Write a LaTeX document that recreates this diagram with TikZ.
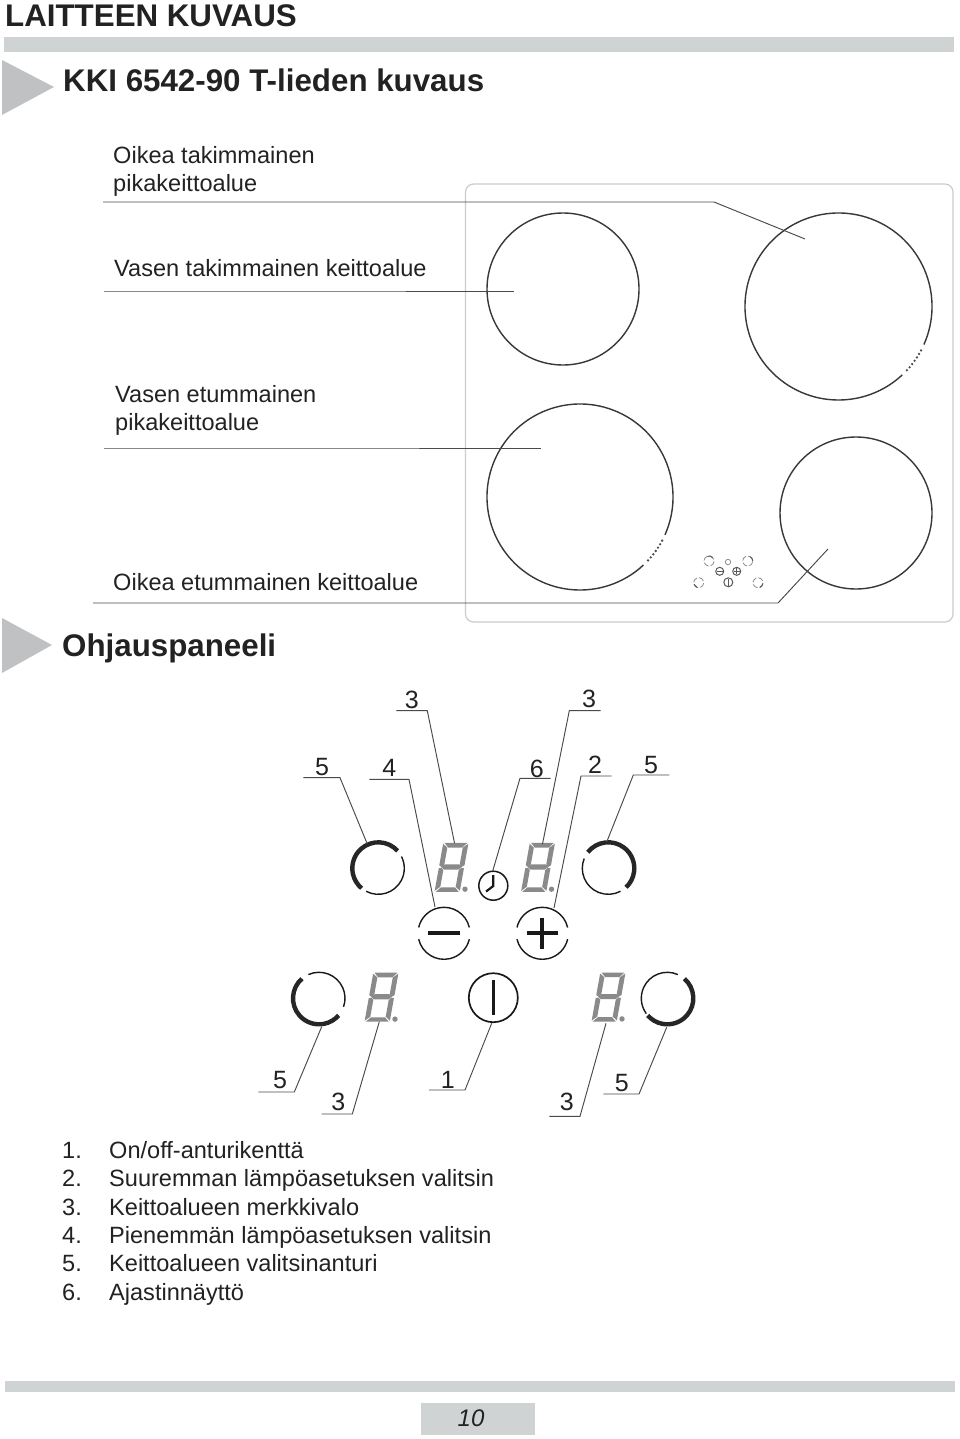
\documentclass[tikz,border=0pt]{standalone}
\usepackage{fontspec}
\setmainfont{Liberation Sans}
\definecolor{barc}{HTML}{D0D3D4}
\definecolor{tric}{HTML}{BFC1C2}
\definecolor{txtc}{HTML}{222222}
\definecolor{linec}{HTML}{4A4A4A}
\definecolor{segc}{HTML}{8A8A8A}
\tikzset{
 txt/.style={anchor=base west,inner sep=0pt,font=\fontsize{23.55}{28}\selectfont,text=txtc},
 head/.style={anchor=base west,inner sep=0pt,font=\fontsize{31.3}{36}\selectfont\bfseries,text=txtc},
 num/.style={anchor=center,inner sep=0pt,font=\fontsize{25}{28}\selectfont,text=txtc},
 leader/.style={draw=linec,line width=0.95pt},
 thinarc/.style={draw=black!90,line width=1.4pt},
 thickarc/.style={draw=black!85,line width=4.4pt},
 hob/.style={draw=black!78,line width=1.4pt},
 mini/.style={draw=black!45,line width=0.8pt},
 minid/.style={draw=black!65,line width=1pt},
 seg/.style={fill=segc,draw=none},
}
% seven segment display: origin = lower left, upper edge at 49, sheared
\newcommand{\sevenseg}[2]{%
 \begin{scope}[shift={(#1,#2)},y=1pt,xslant=0.18]
  \fill[seg] (1.2,49)--(24.2,49)--(19.7,44.3)--(5.7,44.3)--cycle;
  \fill[seg] (25.2,48)--(25.2,26.5)--(22.5,24.8)--(20.3,27.5)--(20.3,44.2)--cycle;
  \fill[seg] (0,48)--(0,26.5)--(2.7,24.8)--(4.9,27.5)--(4.9,44.2)--cycle;
  \fill[seg] (2,25)--(5.4,27.5)--(19.8,27.5)--(23.2,25)--(19.8,22.3)--(5.4,22.3)--cycle;
  \fill[seg] (25.2,23.5)--(25.2,1)--(20.3,5)--(20.3,21.7)--(22.5,24)--cycle;
  \fill[seg] (0,23.5)--(2.7,24)--(4.9,21.7)--(4.9,5)--(0,1)--cycle;
  \fill[seg] (1.2,0)--(24.2,0)--(19.7,4.4)--(5.7,4.4)--cycle;
 \end{scope}
 \fill[seg] (#1+30.5,#2-2.6) circle[radius=2.7pt];
}
% sensor: x y thickstart thickend thinstart thinend
\newcommand{\sensor}[6]{%
 \begin{scope}[shift={(#1,#2)},y=1pt]
  \draw[thickarc] (#3:26) arc[start angle=#3,end angle=#4,radius=26];
  \draw[thinarc] (#5:26) arc[start angle=#5,end angle=#6,radius=26];
 \end{scope}}
\newcommand{\minisensor}[4]{%
 \begin{scope}[shift={(#1,#2)},y=1pt]
  \foreach \a in {20,110,200,290}{\draw[mini] (\a:5) arc[start angle=\a,end angle=\a+65,radius=5];}
  \draw[minid] (#3:5) arc[start angle=#3,end angle=#4,radius=5];
 \end{scope}}
\newcommand{\leadline}[7]{%
 \coordinate (#1a) at (#2,#3);\coordinate (#1b) at (#4,#5);\coordinate (#1c) at (#6,#7);
 \draw[leader] (#1a)--(#1b)--(#1c);}
\begin{document}
\begin{tikzpicture}[x=1pt,y=-1pt]
\useasboundingbox (0,0) rectangle (960,1439);
\fill[white] (0,0) rectangle (960,1439);
% header
\node[head] (title) at (5,26.7) {LAITTEEN KUVAUS};
\fill[barc] (4,37) rectangle (954,52);
\fill[tric] (2,60)--(54,87)--(2,115)--cycle;
\node[head] (sub1) at (63,91.7) {KKI 6542-90 T-lieden kuvaus};
\fill[tric] (2,618)--(52,645)--(2,673)--cycle;
\node[head] (sub2) at (62,656) {Ohjauspaneeli};
% labels
\node[txt] (t1) at (113,163.7) {Oikea takimmainen};
\node[txt] (t1b) at (113,191.7) {pikakeittoalue};
\node[txt] (t2) at (114,276.7) {Vasen takimmainen keittoalue};
\node[txt] (t3) at (115,402) {Vasen etummainen};
\node[txt] (t3b) at (115,430) {pikakeittoalue};
\node[txt] (t4) at (113,590) {Oikea etummainen keittoalue};
% hob
\draw[draw=black!20,line width=1.2pt,rounded corners=8pt] (465.5,184)--(953,184)--(953,622)--(465.5,622)--cycle;
\draw[hob] (563,289) circle[radius=76];
\draw[hob] (856,513) circle[radius=76];
\begin{scope}[shift={(838.5,306.5)},y=1pt]
 \draw[hob] (-24:93.5) arc[start angle=-24,end angle=313,radius=93.5];
 \foreach \a in {-28,-30.5,-33,-35.5,-38,-40.5,-43}{\fill[black!70] (\a:93.5) circle[radius=1.3pt];}
\end{scope}
\begin{scope}[shift={(580,497)},y=1pt]
 \draw[hob] (-24:93) arc[start angle=-24,end angle=313,radius=93];
 \foreach \a in {-28,-30.5,-33,-35.5,-38,-40.5,-43}{\fill[black!70] (\a:93) circle[radius=1.3pt];}
\end{scope}
% mini panel
\minisensor{709}{561}{40}{110}
\minisensor{747.7}{561}{0}{60}
\minisensor{698.7}{582.7}{200}{250}
\minisensor{758}{582.7}{290}{350}
\draw[mini] (728,562) circle[radius=2.7];
\draw[minid] (719.7,571.3) circle[radius=4];
\draw[minid] (716.7,571.3)--(722.7,571.3);
\draw[minid] (736.7,571.3) circle[radius=4];
\draw[minid] (733.7,571.3)--(739.7,571.3) (736.7,568.3)--(736.7,574.3);
\draw[minid] (728.3,582.3) circle[radius=4.5];
\draw[minid] (728.3,579)--(728.3,585.6);
% top leaders
\leadline{a}{103}{202}{714}{202}{805}{239}
\leadline{b}{104}{291}{300}{291}{514}{291}
\leadline{c}{104}{448}{300}{448}{541}{448}
\leadline{d}{93}{603}{778}{603}{828}{549}
% panel
\sensor{378.3}{868.3}{42}{230}{242}{387}
\sensor{608.3}{868.3}{142}{-47}{158}{298}
\sensor{319}{998.3}{131}{319}{114}{-19}
\sensor{667.3}{998.3}{49}{-139}{66}{216}
\sevenseg{434.5}{891.8}
\sevenseg{521}{891.8}
\sevenseg{364.5}{1021.7}
\sevenseg{591.5}{1021.5}
% clock
\draw[line width=1.5pt,draw=black!90] (493.3,885.7) circle[radius=14.5];
\draw[line width=2.2pt,draw=black!90] (493.3,875)--(493.3,886)--(486,891.5);
% minus, plus
\begin{scope}[shift={(444,933.3)},y=1pt]
 \draw[thinarc] (13:26) arc[start angle=13,end angle=167,radius=26];
 \draw[thinarc] (193:26) arc[start angle=193,end angle=347,radius=26];
\end{scope}
\draw[line width=4.2pt,draw=black!90] (427.7,933.3)--(460,933.3);
\begin{scope}[shift={(542.3,933.3)},y=1pt]
 \draw[thinarc] (13:26) arc[start angle=13,end angle=167,radius=26];
 \draw[thinarc] (193:26) arc[start angle=193,end angle=347,radius=26];
\end{scope}
\draw[line width=3.8pt,draw=black!90] (526.7,933.3)--(558.3,933.3) (542.3,917.7)--(542.3,949.3);
% on/off
\draw[line width=1.7pt,draw=black!90] (493.3,997.7) circle[radius=24.5];
\draw[line width=3pt,draw=black!90] (493.3,980)--(493.3,1015);
% panel numbers and leaders
\node[num] (n1) at (411.7,699.5) {3};
\leadline{e}{396.3}{710.7}{427.3}{710.7}{454.5}{843}
\node[num] (n2) at (589,699) {3};
\leadline{f}{600.7}{710.7}{569.3}{710.7}{542.5}{844}
\node[num] (n3) at (322,767) {5};
\leadline{g}{303.3}{777.7}{340}{777.7}{367.3}{844}
\node[num] (n4) at (389.3,768) {4};
\leadline{h}{369.3}{779.3}{409}{779.3}{435}{907}
\node[num] (n5) at (536.7,768.5) {6};
\leadline{i}{550.7}{778.3}{520}{778.3}{492.7}{871}
\node[num] (n6) at (595,765) {2};
\leadline{j}{611.7}{776}{581}{776}{554}{908}
\node[num] (n7) at (651,765) {5};
\leadline{k}{669.3}{775}{633.3}{775}{606.7}{842}
\node[num] (n8) at (280,1080) {5};
\leadline{l}{258.3}{1092}{294.3}{1092}{321.7}{1026.7}
\node[num] (n9) at (338.3,1102) {3};
\leadline{m}{321.7}{1114}{352.3}{1114}{379.3}{1021.7}
\node[num] (n10) at (447.7,1079.5) {1};
\leadline{n}{429}{1090}{465}{1090}{491.7}{1023.3}
\node[num] (n11) at (566.7,1102) {3};
\leadline{o}{549.3}{1116.3}{580}{1116.3}{606}{1023.3}
\node[num] (n12) at (621.7,1082.7) {5};
\leadline{p}{603.3}{1094}{639}{1094}{666.7}{1027.3}
% list
\foreach \n/\yy/\s in {1/1158/{On/off-anturikenttä},2/1186/{Suuremman lämpöasetuksen valitsin},3/1215/{Keittoalueen merkkivalo},4/1243/{Pienemmän lämpöasetuksen valitsin},5/1271/{Keittoalueen valitsinanturi},6/1300/{Ajastinnäyttö}}{
 \node[txt] (ln\n) at (62,\yy) {\n.};
 \node[txt] (lt\n) at (109,\yy) {\s};
}
% footer
\fill[barc] (5,1381) rectangle (955,1392);
\fill[barc] (421,1403) rectangle (535,1435);
\node[anchor=center,inner sep=0pt,font=\fontsize{24}{28}\selectfont\itshape,text=txtc] (pg) at (471,1418) {10};
\end{tikzpicture}
\end{document}
